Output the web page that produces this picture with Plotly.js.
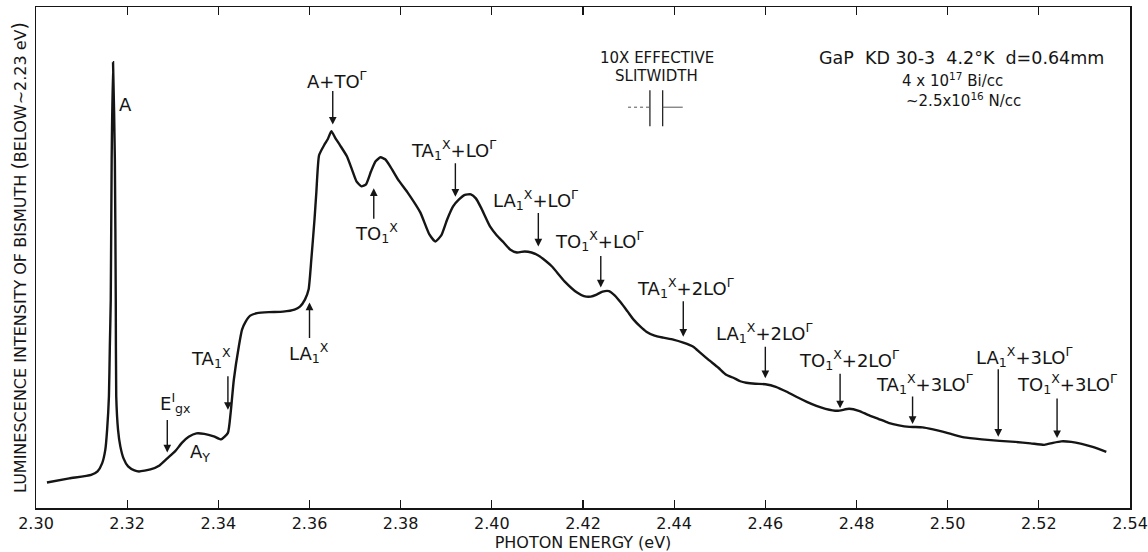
<!DOCTYPE html>
<html>
<head>
<meta charset="utf-8">
<script src="https://cdn.plot.ly/plotly-3.0.1.min.js"></script>
<style>
  html, body { margin: 0; padding: 0; background: #fff; }
  #plot { width: 1148px; height: 552px; }
</style>
</head>
<body>
<div id="plot"></div>
<script>
// Luminescence spectrum of GaP:Bi (photon energy in eV, intensity in arbitrary units)
const energy = [
  2.3024, 2.3073, 2.3121, 2.3135, 2.3145, 2.3152, 2.3156, 2.3160, 2.3162, 2.3164,
  2.3166, 2.3169, 2.3173, 2.3175, 2.3176, 2.3180, 2.3185, 2.3192, 2.3202, 2.3216,
  2.3226, 2.3251, 2.3271, 2.3288, 2.3306, 2.3320, 2.3335, 2.3352, 2.3369, 2.3390,
  2.3406, 2.3421, 2.3427, 2.3434, 2.3445, 2.3452, 2.3460, 2.3470, 2.3485, 2.3511,
  2.3542, 2.3567, 2.3579, 2.3590, 2.3598, 2.3604, 2.3611, 2.3615, 2.3621, 2.3632,
  2.3640, 2.3648, 2.3657, 2.3667, 2.3682, 2.3693, 2.3703, 2.3714, 2.3724, 2.3735,
  2.3745, 2.3756, 2.3766, 2.3777, 2.3794, 2.3815, 2.3843, 2.3863, 2.3876, 2.3889,
  2.3902, 2.3915, 2.3928, 2.3941, 2.3954, 2.3965, 2.3976, 2.3996, 2.4011, 2.4026,
  2.4040, 2.4055, 2.4072, 2.4087, 2.4102, 2.4117, 2.4132, 2.4160, 2.4187, 2.4202,
  2.4217, 2.4230, 2.4243, 2.4257, 2.4270, 2.4283, 2.4298, 2.4311, 2.4326, 2.4339,
  2.4357, 2.4376, 2.4398, 2.4420, 2.4442, 2.4457, 2.4475, 2.4497, 2.4514, 2.4530,
  2.4545, 2.4558, 2.4578, 2.4600, 2.4623, 2.4647, 2.4668, 2.4691, 2.4712, 2.4732,
  2.4758, 2.4784, 2.4805, 2.4825, 2.4848, 2.4870, 2.4893, 2.4916, 2.4945, 2.4968,
  2.4991, 2.5014, 2.5036, 2.5075, 2.5114, 2.5148, 2.5182, 2.5212, 2.5231, 2.5249,
  2.5271, 2.5294, 2.5318, 2.5348
];
const intensity = [
  5.1, 5.9, 6.6, 7.3, 8.9, 11.6, 15.6, 22.3, 32.3, 41.6,
  69.6, 89.0, 69.6, 41.6, 22.3, 15.6, 12.3, 9.9, 8.3, 7.5,
  7.3, 7.7, 8.5, 9.9, 11.4, 13.0, 14.2, 14.9, 14.8, 14.3,
  13.7, 15.0, 19.0, 25.6, 32.3, 35.6, 37.2, 38.4, 38.9, 39.1,
  39.2, 39.6, 40.2, 41.6, 43.6, 49.6, 57.6, 63.0, 70.4, 72.4,
  73.6, 75.2, 73.8, 72.4, 70.2, 67.6, 65.2, 64.2, 64.6, 67.2,
  69.2, 70.0, 69.6, 68.2, 65.6, 63.0, 59.0, 54.6, 53.2, 54.4,
  57.6, 60.2, 61.6, 62.5, 62.6, 61.8, 60.0, 56.2, 54.4, 53.0,
  51.6, 51.0, 51.2, 51.0, 50.4, 49.4, 48.2, 45.2, 43.0, 42.3,
  42.2, 42.6, 43.2, 43.3, 42.4, 41.0, 39.2, 37.6, 36.2, 35.2,
  34.4, 34.0, 33.6, 33.0, 32.2, 31.0, 29.6, 28.0, 26.6, 26.0,
  25.3, 25.0, 24.8, 24.7, 24.2, 23.2, 22.2, 21.2, 20.4, 19.8,
  19.4, 19.8, 19.4, 18.6, 17.8, 17.0, 16.5, 16.2, 16.1, 15.7,
  15.2, 14.6, 14.1, 13.7, 13.4, 13.2, 12.9, 12.6, 13.0, 13.3,
  13.2, 12.8, 12.2, 11.2
];

const xTicks = [2.30, 2.32, 2.34, 2.36, 2.38, 2.40, 2.42, 2.44, 2.46, 2.48, 2.50, 2.52, 2.54];
const tickLabels = ['2.30', '2.32', '2.34', '2.36', '2.38', '2.40', '2.42', '2.44', '2.46', '2.48', '2.50', '2.52', '2.54'];

// Line assignments and the photon energies they mark (eV)
const X1 = '<sub>1</sub><sup>X</sup>';
const lineLabels = [
  'A', 'A<sub>Y</sub>', 'E<sup>I</sup><sub>gx</sub>', 'TA' + X1, 'LA' + X1,
  'A+TO<sup>Γ</sup>', 'TO' + X1,
  'TA' + X1 + '+LO<sup>Γ</sup>', 'LA' + X1 + '+LO<sup>Γ</sup>', 'TO' + X1 + '+LO<sup>Γ</sup>',
  'TA' + X1 + '+2LO<sup>Γ</sup>', 'LA' + X1 + '+2LO<sup>Γ</sup>', 'TO' + X1 + '+2LO<sup>Γ</sup>',
  'TA' + X1 + '+3LO<sup>Γ</sup>', 'LA' + X1 + '+3LO<sup>Γ</sup>', 'TO' + X1 + '+3LO<sup>Γ</sup>'
];
const lineEnergy = [
  2.3169, 2.3352, 2.3288, 2.3421, 2.3600,
  2.3651, 2.3741,
  2.3920, 2.4102, 2.4239,
  2.4420, 2.4600, 2.4764,
  2.4923, 2.5111, 2.5240
];

// Ten times the effective spectral slit width (eV)
const slitWidth10x = 0.0028;

// Intensity of the spectrum at a given energy (linear between samples)
function curveAt(e) {
  for (let i = 0; i < energy.length - 1; i++) {
    if (e >= energy[i] && e <= energy[i + 1]) {
      const t = (e - energy[i]) / (energy[i + 1] - energy[i]);
      return intensity[i] + t * (intensity[i + 1] - intensity[i]);
    }
  }
  return intensity[intensity.length - 1];
}

// Placement of each label, in pixels from its point on the curve:
// dx/dy move the text, ay is the arrow tail offset, gap keeps the head off the curve
const place = [
  { dx: 12, dy: -42 },
  { dx: 4, dy: -20 },
  { dx: 8, dy: 55, ay: -40, gap: 6 },
  { dx: -17, dy: 75, ay: -58, gap: 23 },
  { dx: -1, dy: -73, ay: 60, gap: 23 },
  { dx: 4, dy: 54, ay: -44, gap: 9 },
  { dx: 3, dy: -68, ay: 55, gap: 23 },
  { dx: -2, dy: 54, ay: -42, gap: 7 },
  { dx: -3, dy: 56, ay: -44, gap: 9 },
  { dx: -1, dy: 51, ay: -38, gap: 5 },
  { dx: 2, dy: 55, ay: -43, gap: 6 },
  { dx: -1, dy: 51, ay: -39, gap: 6 },
  { dx: 9, dy: 50, ay: -38, gap: 2 },
  { dx: 12, dy: 43, ay: -32, gap: 3 },
  { dx: 26, dy: 84, ay: -73, gap: 4 },
  { dx: 10, dy: 58, ay: -45, gap: 4 }
];

const INK = '#151515';
const FONT = 'DejaVu Sans';
const annotations = [];

lineLabels.forEach((label, i) => {
  const e = lineEnergy[i];
  const level = curveAt(e);
  const p = place[i];
  annotations.push({
    x: e, y: level, xref: 'x', yref: 'y',
    text: label, showarrow: false,
    xshift: p.dx, yshift: p.dy,
    xanchor: 'center', yanchor: 'middle',
    font: { family: FONT, size: 18, color: INK }
  });
  if (p.ay !== undefined) {
    annotations.push({
      x: e, y: level, xref: 'x', yref: 'y',
      text: '', showarrow: true,
      ax: 0, ay: p.ay, standoff: p.gap,
      arrowhead: 2, arrowsize: 1.1, arrowwidth: 1.4, arrowcolor: INK
    });
  }
});

// Sample description and slit-width caption
const notes = [
  { x: 0.568, y: 0.898, text: '10X EFFECTIVE', size: 15 },
  { x: 0.567, y: 0.862, text: 'SLITWIDTH', size: 15 },
  { x: 0.846, y: 0.898, text: 'GaP\u00a0\u00a0KD\u00a030-3\u00a0\u00a04.2°K\u00a0\u00a0d=0.64mm', size: 17.5 },
  { x: 0.838, y: 0.854, text: '4\u00a0x\u00a010<sup>17</sup>\u00a0Bi/cc', size: 15 },
  { x: 0.848, y: 0.814, text: '~2.5x10<sup>16</sup>\u00a0N/cc', size: 15 }
];
notes.forEach(n => annotations.push({
  x: n.x, y: n.y, xref: 'paper', yref: 'paper', text: n.text, showarrow: false,
  xanchor: 'center', yanchor: 'middle', font: { family: FONT, size: n.size, color: INK }
}));

// Slit-width marker, centred under its caption
const xRange = [2.30, 2.54];
const slitCenter = xRange[0] + 0.567 * (xRange[1] - xRange[0]);
const slitL = slitCenter - slitWidth10x / 2;
const slitR = slitCenter + slitWidth10x / 2;
const shapes = [
  { type: 'line', xref: 'x', yref: 'paper', x0: slitL, x1: slitL, y0: 0.762, y1: 0.834, line: { color: INK, width: 1.2 } },
  { type: 'line', xref: 'x', yref: 'paper', x0: slitR, x1: slitR, y0: 0.762, y1: 0.834, line: { color: INK, width: 1.2 } },
  { type: 'line', xref: 'x', yref: 'paper', x0: slitL - 0.0048, x1: slitL, y0: 0.800, y1: 0.800, line: { color: '#555', width: 1, dash: 'dot' } },
  { type: 'line', xref: 'x', yref: 'paper', x0: slitR, x1: slitR + 0.0044, y0: 0.800, y1: 0.800, line: { color: '#555', width: 1 } }
];

const trace = {
  x: energy, y: intensity, type: 'scatter', mode: 'lines',
  line: { color: INK, width: 2.4, shape: 'spline', smoothing: 0.5 },
  hoverinfo: 'skip'
};

const bigParen = s => '<span style="font-size:19px">' + s + '</span>';

const layout = {
  width: 1148, height: 552,
  margin: { l: 36, r: 18, t: 7, b: 44 },
  paper_bgcolor: '#fff', plot_bgcolor: '#fff',
  font: { family: FONT, size: 16, color: INK },
  showlegend: false,
  xaxis: {
    range: xRange, tickvals: xTicks, ticktext: tickLabels,
    ticks: 'inside', ticklen: 8, tickwidth: 1.2, tickcolor: INK,
    showline: true, linecolor: INK, linewidth: 1.5, mirror: 'ticks',
    showgrid: false, zeroline: false,
    tickfont: { family: FONT, size: 16, color: INK },
    title: { text: 'PHOTON ENERGY (eV)', font: { family: FONT, size: 16, color: INK }, standoff: 9 },
    automargin: false
  },
  yaxis: {
    range: [0, 100], showticklabels: false, ticks: '',
    showline: true, linecolor: INK, linewidth: 1.5, mirror: true,
    showgrid: false, zeroline: false,
    title: { text: 'LUMINESCENCE INTENSITY OF BISMUTH ' + bigParen('(') + 'BELOW~2.23 eV' + bigParen(')'), font: { family: FONT, size: 16, color: INK }, standoff: 4 },
    automargin: false
  },
  annotations: annotations,
  shapes: shapes
};

Plotly.newPlot('plot', [trace], layout, { staticPlot: true, displayModeBar: false });
</script>
</body>
</html>
